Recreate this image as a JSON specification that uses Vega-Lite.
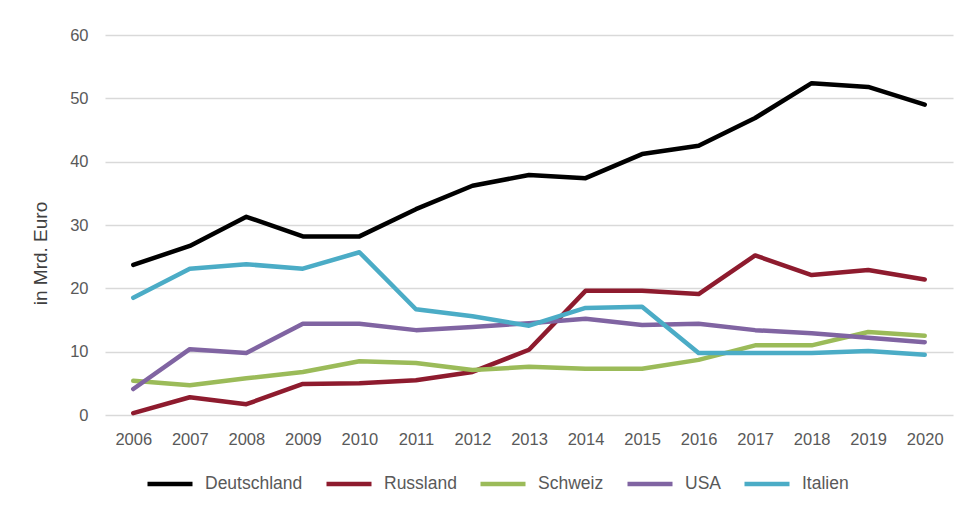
{
  "$schema": "https://vega.github.io/schema/vega-lite/v6.json",
  "width": 848,
  "height": 380,
  "autosize": {"type": "none"},
  "padding": {"left": 105, "top": 35, "right": 10, "bottom": 92},
  "background": "white",
  "config": {
    "view": {"stroke": null},
    "font": "Liberation Sans"
  },
  "data": {
    "values": [
      {"Jahr": "2006", "Land": "Deutschland", "Wert": 23.7},
      {"Jahr": "2007", "Land": "Deutschland", "Wert": 26.7},
      {"Jahr": "2008", "Land": "Deutschland", "Wert": 31.3},
      {"Jahr": "2009", "Land": "Deutschland", "Wert": 28.2},
      {"Jahr": "2010", "Land": "Deutschland", "Wert": 28.2},
      {"Jahr": "2011", "Land": "Deutschland", "Wert": 32.5},
      {"Jahr": "2012", "Land": "Deutschland", "Wert": 36.2},
      {"Jahr": "2013", "Land": "Deutschland", "Wert": 37.9},
      {"Jahr": "2014", "Land": "Deutschland", "Wert": 37.4},
      {"Jahr": "2015", "Land": "Deutschland", "Wert": 41.2},
      {"Jahr": "2016", "Land": "Deutschland", "Wert": 42.5},
      {"Jahr": "2017", "Land": "Deutschland", "Wert": 46.9},
      {"Jahr": "2018", "Land": "Deutschland", "Wert": 52.4},
      {"Jahr": "2019", "Land": "Deutschland", "Wert": 51.8},
      {"Jahr": "2020", "Land": "Deutschland", "Wert": 49.0},
      {"Jahr": "2006", "Land": "Russland", "Wert": 0.3},
      {"Jahr": "2007", "Land": "Russland", "Wert": 2.8},
      {"Jahr": "2008", "Land": "Russland", "Wert": 1.7},
      {"Jahr": "2009", "Land": "Russland", "Wert": 4.9},
      {"Jahr": "2010", "Land": "Russland", "Wert": 5.0},
      {"Jahr": "2011", "Land": "Russland", "Wert": 5.5},
      {"Jahr": "2012", "Land": "Russland", "Wert": 6.8},
      {"Jahr": "2013", "Land": "Russland", "Wert": 10.3},
      {"Jahr": "2014", "Land": "Russland", "Wert": 19.6},
      {"Jahr": "2015", "Land": "Russland", "Wert": 19.6},
      {"Jahr": "2016", "Land": "Russland", "Wert": 19.1},
      {"Jahr": "2017", "Land": "Russland", "Wert": 25.2},
      {"Jahr": "2018", "Land": "Russland", "Wert": 22.1},
      {"Jahr": "2019", "Land": "Russland", "Wert": 22.9},
      {"Jahr": "2020", "Land": "Russland", "Wert": 21.4},
      {"Jahr": "2006", "Land": "Schweiz", "Wert": 5.4},
      {"Jahr": "2007", "Land": "Schweiz", "Wert": 4.7},
      {"Jahr": "2008", "Land": "Schweiz", "Wert": 5.8},
      {"Jahr": "2009", "Land": "Schweiz", "Wert": 6.8},
      {"Jahr": "2010", "Land": "Schweiz", "Wert": 8.5},
      {"Jahr": "2011", "Land": "Schweiz", "Wert": 8.2},
      {"Jahr": "2012", "Land": "Schweiz", "Wert": 7.1},
      {"Jahr": "2013", "Land": "Schweiz", "Wert": 7.6},
      {"Jahr": "2014", "Land": "Schweiz", "Wert": 7.3},
      {"Jahr": "2015", "Land": "Schweiz", "Wert": 7.3},
      {"Jahr": "2016", "Land": "Schweiz", "Wert": 8.7},
      {"Jahr": "2017", "Land": "Schweiz", "Wert": 11.0},
      {"Jahr": "2018", "Land": "Schweiz", "Wert": 11.0},
      {"Jahr": "2019", "Land": "Schweiz", "Wert": 13.1},
      {"Jahr": "2020", "Land": "Schweiz", "Wert": 12.5},
      {"Jahr": "2006", "Land": "USA", "Wert": 4.1},
      {"Jahr": "2007", "Land": "USA", "Wert": 10.4},
      {"Jahr": "2008", "Land": "USA", "Wert": 9.8},
      {"Jahr": "2009", "Land": "USA", "Wert": 14.4},
      {"Jahr": "2010", "Land": "USA", "Wert": 14.4},
      {"Jahr": "2011", "Land": "USA", "Wert": 13.4},
      {"Jahr": "2012", "Land": "USA", "Wert": 13.9},
      {"Jahr": "2013", "Land": "USA", "Wert": 14.5},
      {"Jahr": "2014", "Land": "USA", "Wert": 15.2},
      {"Jahr": "2015", "Land": "USA", "Wert": 14.2},
      {"Jahr": "2016", "Land": "USA", "Wert": 14.4},
      {"Jahr": "2017", "Land": "USA", "Wert": 13.4},
      {"Jahr": "2018", "Land": "USA", "Wert": 12.9},
      {"Jahr": "2019", "Land": "USA", "Wert": 12.2},
      {"Jahr": "2020", "Land": "USA", "Wert": 11.5},
      {"Jahr": "2006", "Land": "Italien", "Wert": 18.5},
      {"Jahr": "2007", "Land": "Italien", "Wert": 23.1},
      {"Jahr": "2008", "Land": "Italien", "Wert": 23.8},
      {"Jahr": "2009", "Land": "Italien", "Wert": 23.1},
      {"Jahr": "2010", "Land": "Italien", "Wert": 25.7},
      {"Jahr": "2011", "Land": "Italien", "Wert": 16.7},
      {"Jahr": "2012", "Land": "Italien", "Wert": 15.6},
      {"Jahr": "2013", "Land": "Italien", "Wert": 14.1},
      {"Jahr": "2014", "Land": "Italien", "Wert": 16.9},
      {"Jahr": "2015", "Land": "Italien", "Wert": 17.1},
      {"Jahr": "2016", "Land": "Italien", "Wert": 9.8},
      {"Jahr": "2017", "Land": "Italien", "Wert": 9.8},
      {"Jahr": "2018", "Land": "Italien", "Wert": 9.8},
      {"Jahr": "2019", "Land": "Italien", "Wert": 10.1},
      {"Jahr": "2020", "Land": "Italien", "Wert": 9.5}
    ]
  },
  "mark": {"type": "line", "strokeWidth": 4.5, "strokeCap": "round", "strokeJoin": "round"},
  "encoding": {
    "x": {
      "field": "Jahr",
      "type": "ordinal",
      "scale": {"type": "point", "padding": 0.5},
      "axis": {
        "title": null,
        "labelAngle": 0,
        "labelFontSize": 16.5,
        "labelColor": "#595959",
        "labelPadding": 16,
        "ticks": false,
        "domain": false,
        "grid": false
      }
    },
    "y": {
      "field": "Wert",
      "type": "quantitative",
      "scale": {"domain": [0, 60]},
      "axis": {
        "values": [0, 10, 20, 30, 40, 50, 60],
        "title": "in Mrd. Euro",
        "titleFontSize": 19,
        "titleFontWeight": "normal",
        "titleColor": "#404040",
        "titlePadding": 19,
        "titleY": 218,
        "labelFontSize": 16.5,
        "labelColor": "#595959",
        "labelPadding": 17,
        "ticks": false,
        "domain": false,
        "gridColor": "#d9d9d9",
        "gridWidth": 1.3
      }
    },
    "color": {
      "field": "Land",
      "type": "nominal",
      "sort": ["Deutschland", "Russland", "Schweiz", "USA", "Italien"],
      "scale": {
        "domain": ["Deutschland", "Russland", "Schweiz", "USA", "Italien"],
        "range": ["#000000", "#8E1B2E", "#9BBB59", "#8064A2", "#4BACC6"]
      },
      "legend": {
        "title": null,
        "orient": "none",
        "direction": "horizontal",
        "legendX": 40,
        "legendY": 424,
        "symbolType": "stroke",
        "symbolSize": 2025,
        "symbolStrokeWidth": 4.5,
        "labelFontSize": 17.5,
        "labelColor": "#595959",
        "labelOffset": 10,
        "columnPadding": 14
      }
    }
  }
}
